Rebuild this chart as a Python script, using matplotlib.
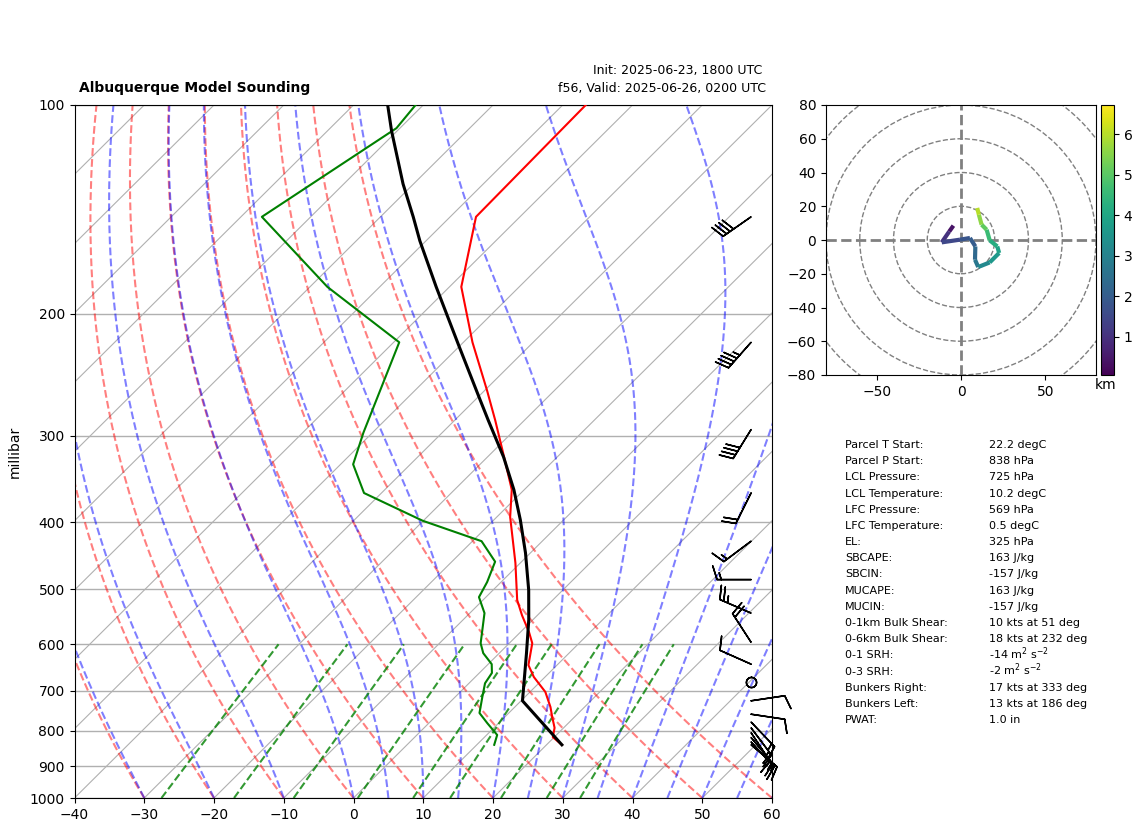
import numpy as np
import matplotlib
matplotlib.use('Agg')
import matplotlib.pyplot as plt
from matplotlib.collections import LineCollection
from matplotlib.ticker import FixedLocator, NullLocator, ScalarFormatter

W, H = 1142, 832

# sounding
p_t = [838, 817, 792, 764, 739, 703, 669, 643, 598, 576, 545, 518, 458, 393, 359, 318, 285, 258, 220, 183, 145, 100]
temp = [22.2, 19.8, 18.7, 16.8, 15.1, 12.2, 8.4, 5.9, 3.3, 1.2, -2.2, -5.1, -10.7, -18.1, -21.8, -28.3, -34.2,
        -39.7, -48.7, -58.3, -66.3, -66.7]
p_d = [838, 811, 780, 754, 715, 683, 660, 641, 618, 598, 541, 513, 488, 456, 426, 398, 363, 330, 297, 220, 183,
       145, 108, 100]
dewp = [12.5, 11.5, 8.4, 5.8, 3.9, 2.3, 1.8, 0.5, -2.3, -4.1, -7.9, -11.0, -12.0, -13.8, -18.7, -30.1, -42.5,
        -48.2, -51.3, -59.2, -77.5, -97.0, -90.5, -91.1]
p_parcel = [838, 724, 618, 553, 501, 443, 397, 359, 322, 285, 262, 222, 183, 157, 145, 130, 109, 100]
t_parcel = [22.2, 10.2, 3.9, -0.6, -4.9, -10.7, -16.2, -21.5, -27.7, -35.2, -40.3, -50.3, -61.9, -70.9, -75.3,
            -81.5, -90.8, -95.1]

# barbs, knots
p_barb = [145, 220, 294, 363, 426, 484, 541, 596, 641, 724, 757, 777,
          792, 805, 818, 830, 838]
u_barb = [33, 30, 21, 9, 12, 15, 23, 11, 9, -10, -10, -10.5,
          -9, -8, -10, -11, -13]
v_barb = [23, 34, 34, 18, 9, 0, -10, -17, -4, -1.5, 1.5, 11,
          12, 12, 12, 12, 11]
p_calm = [681]

# hodograph
hodo_u = [-4.5, -7, -11.4, -0.6, 5.3, 8.5, 8.3, 10.2, 17, 22.6, 21.5, 17, 15.2, 12.2, 10.6, 9.6]
hodo_v = [8.5, 5, -1.4, 0.2, 1.2, -3.8, -11.7, -16, -13.3, -7.7, -3.8, -0.2, 6.1, 9.1, 15, 19]
hodo_h = [0.06, 0.4, 1.0, 1.5, 1.8, 2.0, 2.3, 2.7, 3.2, 3.6, 3.9, 4.2, 4.6, 5.1, 5.6, 6.0]

labels = ['Parcel T Start:', 'Parcel P Start:', 'LCL Pressure:', 'LCL Temperature:', 'LFC Pressure:',
          'LFC Temperature:', 'EL:', 'SBCAPE:', 'SBCIN:', 'MUCAPE:', 'MUCIN:', '0-1km Bulk Shear:',
          '0-6km Bulk Shear:', '0-1 SRH:', '0-3 SRH:', 'Bunkers Right:', 'Bunkers Left:', 'PWAT:']
values = ['22.2 degC', '838 hPa', '725 hPa', '10.2 degC', '569 hPa', '0.5 degC', '325 hPa', '163 J/kg', '-157 J/kg',
          '163 J/kg', '-157 J/kg', '10 kts at 51 deg', '18 kts at 232 deg', '-14 m$^{2}$ s$^{-2}$',
          '-2 m$^{2}$ s$^{-2}$', '17 kts at 333 deg', '13 kts at 186 deg', '1.0 in']

SKEW = 100.  # degC per decade of pressure


def skew(t, p):
    return np.asarray(t, dtype=float) + SKEW * np.log10(1000. / np.asarray(p, dtype=float))


def sat_vap(tc):
    return 6.112 * np.exp(17.67 * tc / (tc + 243.5))


def moist_profile(t0, press):
    # RK4 on ln p
    def dt(tk, p):
        es = sat_vap(tk - 273.15)
        rs = 0.622 * es / (p - es)
        return (287. * tk + 2.501e6 * rs) / (1005. + 2.501e6 ** 2 * rs * 0.622 / (287. * tk ** 2))
    out = [t0 + 273.15]
    for a, b in zip(press[:-1], press[1:]):
        h = np.log(b / a)
        pm = a * np.exp(h / 2)
        k1 = dt(out[-1], a)
        k2 = dt(out[-1] + h * k1 / 2, pm)
        k3 = dt(out[-1] + h * k2 / 2, pm)
        k4 = dt(out[-1] + h * k3, b)
        out.append(out[-1] + h * (k1 + 2 * k2 + 2 * k3 + k4) / 6)
    return np.array(out) - 273.15


fig = plt.figure(figsize=(W / 100, H / 100), dpi=100)
ax = fig.add_axes([74.5 / W, 1 - 798 / H, 697.5 / W, 693 / H])
ax.set_yscale('log')
ax.set_ylim(1000, 100)
ax.set_xlim(-40, 60)
ax.yaxis.set_major_locator(FixedLocator(np.arange(100, 1001, 100)))
ax.yaxis.set_major_formatter(ScalarFormatter())
ax.yaxis.set_minor_locator(NullLocator())
ax.xaxis.set_major_locator(FixedLocator(np.arange(-40, 61, 10)))
ax.set_ylabel('millibar')
ax.yaxis.set_label_coords(-0.075, 0.5)
ax.grid(axis='y', color='#b0b0b0', lw=1.0, zorder=0.5)
ax.set_axisbelow(True)

for t in np.arange(-130, 61, 10):
    ax.plot(skew([t, t], [1000, 100]), [1000, 100], color='#b0b0b0', lw=0.8, zorder=0.6)

press = np.linspace(1000, 100, 200)
for t0 in np.arange(-30, 61, 10):
    ax.plot(skew((t0 + 273.15) * (press / 1000.) ** 0.2857 - 273.15, press), press,
            color='r', alpha=0.5, ls='--', lw=1.5, zorder=1)
for t0 in np.r_[np.arange(-30, 0, 10), np.arange(0, 61, 5)]:
    ax.plot(skew(moist_profile(float(t0), press), press), press,
            color='b', alpha=0.5, ls='--', lw=1.5, zorder=1)
press_w = np.linspace(1000, 600, 50)
for w in [0.0004, 0.001, 0.002, 0.004, 0.007, 0.01, 0.016, 0.024, 0.032]:
    lne = np.log(press_w * w / (0.622 + w) / 6.112)
    ax.plot(skew(243.5 * lne / (17.67 - lne), press_w), press_w,
            color='g', alpha=0.8, ls='--', lw=1.5, zorder=1)

ax.plot(skew(temp, p_t), p_t, color='r', lw=1.5, zorder=3)
ax.plot(skew(dewp, p_d), p_d, color='g', lw=1.5, zorder=3)
ax.plot(skew(t_parcel, p_parcel), p_parcel, color='k', lw=2.2, zorder=4)

# winds sit at a fixed spot on the axes, not on the skewed temperature scale
xt = ax.get_yaxis_transform()
ax.barbs(np.full(len(p_barb), 0.97), p_barb, u_barb, v_barb, transform=xt, length=7, clip_on=False,
         linewidth=1.1, zorder=5)
ax.barbs([0.97], p_calm, [0], [0], transform=xt, length=7, clip_on=False, linewidth=1.1, zorder=5)

fig.text(79 / W, 1 - 92 / H, 'Albuquerque Model Sounding', fontweight='bold', fontsize=10)
fig.text(762 / W, 1 - 74 / H, 'Init: 2025-06-23, 1800 UTC', ha='right', fontsize=9)
fig.text(766 / W, 1 - 92 / H, 'f56, Valid: 2025-06-26, 0200 UTC', ha='right', fontsize=9)

# hodograph
hax = fig.add_axes([826 / W, 1 - 375 / H, 270 / W, 270 / H])
hax.set_xlim(-80, 80)
hax.set_ylim(-80, 80)
hax.set_xticks([-50, 0, 50])
hax.set_yticks(np.arange(-80, 81, 20))
for r in [20, 40, 60, 80, 100]:
    hax.add_patch(plt.Circle((0, 0), r, fill=False, color='gray', ls='--', lw=1))
hax.axhline(0, color='gray', ls='--', lw=2)
hax.axvline(0, color='gray', ls='--', lw=2)
pts = np.column_stack([hodo_u, hodo_v])
segs = np.stack([pts[:-1], pts[1:]], axis=1)
lc = LineCollection(segs, cmap='viridis', lw=3, zorder=4)
lc.set_array(np.array(hodo_h[1:]))
lc.set_clim(0.055, 6.72)
hax.add_collection(lc)

cax = fig.add_axes([1100.5 / W, 1 - 375 / H, 13.5 / W, 270 / H])
cb = fig.colorbar(lc, cax=cax)
cb.set_ticks([1, 2, 3, 4, 5, 6])
fig.text(1106 / W, 1 - 389 / H, 'km', ha='center', fontsize=10)

for i, (lab, val) in enumerate(zip(labels, values)):
    y = 1 - (448 + 16.18 * i) / H
    fig.text(845 / W, y, lab, fontsize=8)
    fig.text(989 / W, y, val, fontsize=8)

fig.savefig('out.png', dpi=100)
